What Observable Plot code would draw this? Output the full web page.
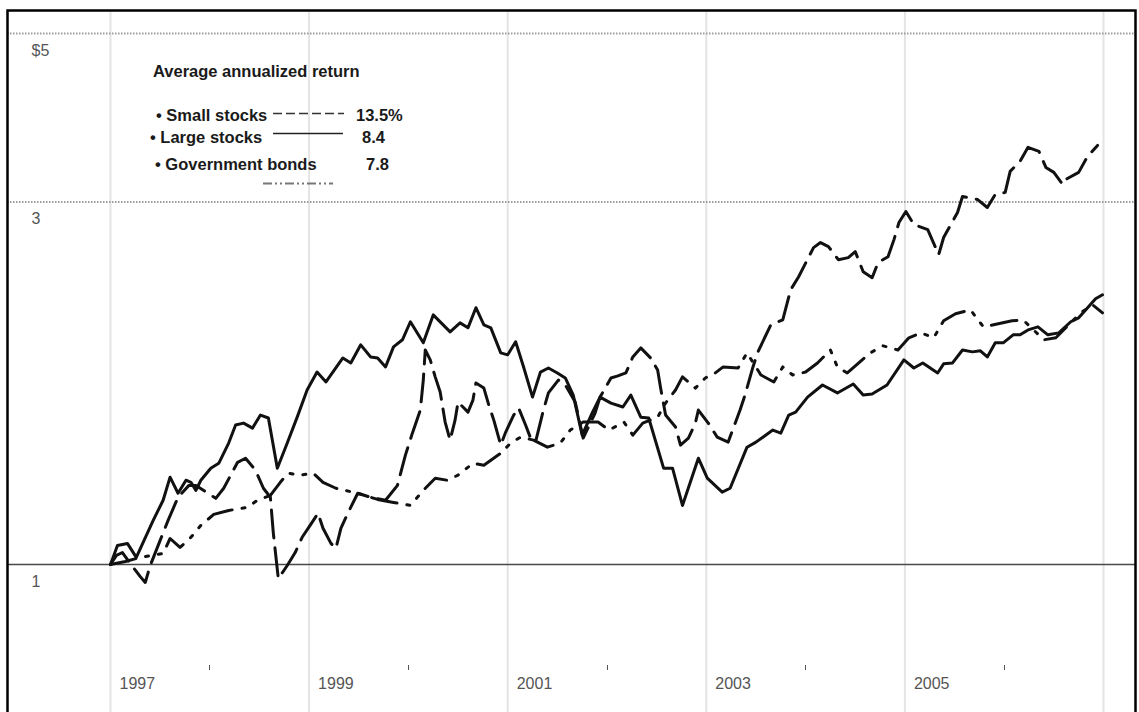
<!DOCTYPE html>
<html><head><meta charset="utf-8">
<script src="https://cdn.jsdelivr.net/npm/d3@7"></script>
<script src="https://cdn.jsdelivr.net/npm/@observablehq/plot@0.6"></script>
<style>
html,body{margin:0;padding:0;background:#fff;}
#chart{width:1139px;height:712px;overflow:hidden;position:relative;background:#fff;}
</style></head><body><div id="chart"></div>
<script>
// ---- data ----
const seriesNames = ["Small stocks", "Large stocks", "Government bonds"];
const seriesReturns = ["13.5%", "8.4", "7.8"];
const legendTitle = "Average annualized return";

const largeYears = [1997.00,1997.07,1997.17,1997.26,1997.43,1997.53,1997.60,1997.68,1997.76,1997.81,
  1997.86,1997.91,1998.01,1998.09,1998.19,1998.26,1998.34,1998.43,1998.51,1998.59,
  1998.68,1998.78,1998.88,1998.98,1999.08,1999.17,1999.34,1999.42,1999.52,1999.62,
  1999.69,1999.77,1999.85,1999.94,2000.02,2000.15,2000.25,2000.42,2000.52,2000.60,
  2000.68,2000.76,2000.83,2000.93,2001.00,2001.08,2001.16,2001.25,2001.33,2001.41,
  2001.50,2001.58,2001.66,2001.75,2001.85,2001.93,2002.04,2002.16,2002.24,2002.34,
  2002.42,2002.57,2002.66,2002.76,2002.92,2003.01,2003.16,2003.24,2003.41,2003.50,
  2003.67,2003.75,2003.83,2003.90,2004.02,2004.17,2004.32,2004.48,2004.58,2004.67,
  2004.82,2004.99,2005.09,2005.18,2005.33,2005.39,2005.48,2005.58,2005.68,2005.76,
  2005.83,2005.91,2005.99,2006.09,2006.16,2006.24,2006.34,2006.44,2006.55,2006.67,
  2006.75,2006.84,2006.92,2006.99];
const largeValues = [1.00,1.059,1.066,1.022,1.143,1.215,1.303,1.241,1.291,1.283,
  1.252,1.291,1.339,1.359,1.445,1.526,1.535,1.512,1.573,1.559,
  1.339,1.445,1.563,1.697,1.792,1.739,1.870,1.842,1.946,1.876,
  1.870,1.820,1.934,1.976,2.087,1.958,2.131,2.024,2.080,2.049,
  2.178,2.068,2.049,1.899,1.888,1.964,1.820,1.661,1.792,1.814,
  1.787,1.760,1.671,1.480,1.582,1.661,1.631,1.612,1.671,1.563,
  1.559,1.339,1.339,1.196,1.380,1.299,1.245,1.260,1.427,1.449,
  1.503,1.489,1.573,1.587,1.661,1.723,1.682,1.728,1.671,1.677,
  1.723,1.859,1.814,1.842,1.787,1.837,1.842,1.916,1.905,1.911,
  1.876,1.958,1.958,2.006,2.006,2.036,2.055,2.006,2.018,2.087,
  2.112,2.178,2.238,2.265];

const smallYears = [1997.00,1997.06,1997.12,1997.20,1997.30,1997.35,1997.40,1997.50,1997.58,1997.68,
  1997.79,1997.86,1998.06,1998.14,1998.28,1998.36,1998.46,1998.54,1998.61,1998.64,
  1998.69,1998.78,1998.86,1998.93,1999.01,1999.09,1999.14,1999.22,1999.27,1999.32,
  1999.39,1999.49,1999.62,1999.77,1999.89,1999.97,2000.04,2000.12,2000.15,2000.17,
  2000.22,2000.27,2000.32,2000.37,2000.42,2000.47,2000.50,2000.60,2000.65,2000.68,
  2000.76,2000.81,2000.86,2000.93,2000.98,2001.06,2001.11,2001.18,2001.23,2001.28,
  2001.36,2001.41,2001.51,2001.58,2001.68,2001.76,2001.88,2001.93,2002.04,2002.11,
  2002.19,2002.26,2002.34,2002.44,2002.51,2002.54,2002.59,2002.69,2002.74,2002.82,
  2002.89,2002.92,2003.02,2003.11,2003.22,2003.34,2003.39,2003.47,2003.52,2003.65,
  2003.77,2003.85,2003.93,2004.08,2004.15,2004.23,2004.33,2004.43,2004.50,2004.58,
  2004.67,2004.73,2004.83,2004.89,2004.94,2005.01,2005.09,2005.23,2005.34,2005.39,
  2005.53,2005.58,2005.73,2005.83,2005.91,2006.01,2006.06,2006.16,2006.24,2006.35,
  2006.42,2006.50,2006.59,2006.62,2006.75,2006.84,2006.94];
const smallValues = [1.00,1.028,1.037,1.003,0.964,0.947,0.997,1.076,1.143,1.226,
  1.271,1.271,1.222,1.260,1.363,1.380,1.331,1.260,1.226,1.099,
  0.958,0.997,1.037,1.086,1.126,1.168,1.116,1.066,1.050,1.116,
  1.168,1.241,1.226,1.215,1.271,1.393,1.489,1.597,1.749,1.916,
  1.859,1.766,1.687,1.540,1.458,1.549,1.636,1.587,1.646,1.734,
  1.707,1.621,1.549,1.436,1.494,1.573,1.607,1.526,1.467,1.449,
  1.597,1.682,1.749,1.723,1.636,1.467,1.582,1.661,1.760,1.771,
  1.787,1.876,1.928,1.870,1.803,1.707,1.573,1.517,1.436,1.467,
  1.535,1.597,1.535,1.471,1.449,1.597,1.671,1.820,1.905,2.068,
  2.099,2.300,2.392,2.613,2.653,2.621,2.519,2.535,2.581,2.429,
  2.385,2.497,2.542,2.677,2.819,2.915,2.802,2.760,2.558,2.694,
  2.906,3.051,3.024,2.951,3.070,3.089,3.292,3.394,3.541,3.498,
  3.332,3.282,3.164,3.213,3.282,3.446,3.562];

const bondYears = [1997.00,1997.15,1997.30,1997.53,1997.60,1997.70,1997.81,1997.91,1998.04,1998.19,
  1998.38,1998.48,1998.61,1998.71,1998.79,1998.91,1999.04,1999.14,1999.27,1999.49,
  1999.69,1999.85,2000.02,2000.15,2000.27,2000.39,2000.50,2000.65,2000.76,2000.93,
  2001.03,2001.13,2001.26,2001.40,2001.53,2001.63,2001.76,2001.91,2002.02,2002.17,
  2002.26,2002.36,2002.51,2002.59,2002.69,2002.76,2002.89,2002.99,2003.09,2003.17,
  2003.32,2003.41,2003.55,2003.68,2003.77,2003.87,2004.00,2004.12,2004.25,2004.32,
  2004.42,2004.65,2004.78,2004.93,2005.04,2005.16,2005.29,2005.39,2005.51,2005.66,
  2005.79,2005.94,2006.08,2006.19,2006.40,2006.52,2006.65,2006.77,2006.89,2006.99];
const bondValues = [1.00,1.009,1.022,1.034,1.082,1.053,1.086,1.126,1.164,1.178,
  1.189,1.215,1.233,1.283,1.319,1.311,1.319,1.283,1.260,1.241,
  1.218,1.207,1.196,1.252,1.299,1.291,1.311,1.359,1.351,1.401,
  1.445,1.471,1.458,1.427,1.445,1.503,1.540,1.540,1.503,1.540,
  1.480,1.535,1.563,1.631,1.697,1.766,1.707,1.760,1.787,1.820,
  1.814,1.899,1.776,1.739,1.820,1.776,1.792,1.842,1.916,1.820,
  1.787,1.899,1.940,1.916,1.988,2.018,1.988,2.093,2.138,2.164,
  2.055,2.074,2.093,2.099,1.976,1.988,2.068,2.144,2.197,2.144];

const gridYears = [1997, 1999, 2001, 2003, 2005, 2007];
const tickYears = [1998, 2000, 2002, 2004, 2006];
const yearLabels = ["1997", "1999", "2001", "2003", "2005"];
const yTickValues = [5, 3, 1];
const yTickLabels = ["$5", "3", "1"];
const dottedLevels = [5, 3];
const baseLevel = [1];

// ---- build tables ----
const toRows = (ys, vs) => ys.map((y, i) => ({year: y, value: vs[i]}));
const smallData = toRows(smallYears, smallValues);
const largeData = toRows(largeYears, largeValues);
const bondData = toRows(bondYears, bondValues);

const FONT = "'Liberation Sans', Arial, Helvetica, sans-serif";
const dashSmall = "28,10";
const dashBond = "26,10,3,10,3,10";

function decorations(index, scales, values, dims) {
  const g = d3.create("svg:g").attr("font-family", FONT).attr("text-anchor", "start");
  // small x ticks near bottom
  for (const t of tickYears) {
    const x = Math.round(scales.x(t)) + 0.5;
    g.append("line").attr("x1", x).attr("x2", x).attr("y1", 665).attr("y2", 670)
      .attr("stroke", "#555").attr("stroke-width", 1);
  }
  // legend
  const txt = (x, y, s) => g.append("text").attr("x", x).attr("y", y)
    .attr("text-anchor", "start").attr("font-size", 16.5).attr("font-weight", "bold")
    .attr("fill", "#1a1a1a").text(s);
  txt(153, 77, legendTitle);
  const rows = [
    {lx: 156, ly: 121, vx: 356},
    {lx: 150, ly: 143, vx: 362},
    {lx: 155, ly: 170, vx: 366}
  ];
  rows.forEach((r, i) => {
    txt(r.lx, r.ly, "\u2022 " + seriesNames[i]);
    txt(r.vx, r.ly, seriesReturns[i]);
  });
  g.append("line").attr("x1", 273).attr("x2", 344).attr("y1", 113.5).attr("y2", 113.5)
    .attr("stroke", "#333").attr("stroke-width", 1.5).attr("stroke-dasharray", "9,4");
  g.append("line").attr("x1", 273).attr("x2", 343).attr("y1", 133.5).attr("y2", 133.5)
    .attr("stroke", "#222").attr("stroke-width", 1.5);
  g.append("line").attr("x1", 263).attr("x2", 333).attr("y1", 183.5).attr("y2", 183.5)
    .attr("stroke", "#777").attr("stroke-width", 2).attr("stroke-dasharray", "9,3,2,3,2,3");
  return g.node();
}

const chart = Plot.plot({
  width: 1139,
  height: 720,
  marginTop: 10,
  marginLeft: 7,
  marginRight: 4,
  marginBottom: 0,
  style: {fontFamily: FONT, background: "#fff"},
  x: {domain: [1997, 2007], range: [110, 1103], axis: null},
  y: {type: "log", domain: [1, 5], range: [564, 33], axis: null},
  marks: [
    Plot.ruleX(gridYears, {x: d => d, stroke: "#e4e4e4", strokeWidth: 2}),
    Plot.ruleY(dottedLevels, {y: d => d, stroke: "#9c9c9c", strokeWidth: 2, strokeDasharray: "1.5,1.5"}),
    Plot.ruleY(baseLevel, {y: d => d, stroke: "#4a4a4a", strokeWidth: 1.6}),
    Plot.text(yTickValues, {y: d => d, text: (d, i) => yTickLabels[i], frameAnchor: "left", textAnchor: "start",
      dx: 24, dy: 17, fontSize: 16, fill: "#555"}),
    Plot.text(yearLabels, {x: d => +d, text: d => d, frameAnchor: "bottom", textAnchor: "start",
      dx: 9, dy: -32, fontSize: 16, fill: "#555"}),
    Plot.line(bondData, {x: "year", y: "value", stroke: "#111", strokeWidth: 3,
      strokeDasharray: dashBond, strokeLinejoin: "round"}),
    Plot.line(largeData, {x: "year", y: "value", stroke: "#111", strokeWidth: 3, strokeLinejoin: "round"}),
    Plot.line(smallData, {x: "year", y: "value", stroke: "#111", strokeWidth: 3,
      strokeDasharray: dashSmall, strokeLinejoin: "round"}),
    Plot.frame({stroke: "#000", strokeWidth: 2.5}),
    decorations
  ]
});
document.getElementById("chart").appendChild(chart);
</script></body></html>
